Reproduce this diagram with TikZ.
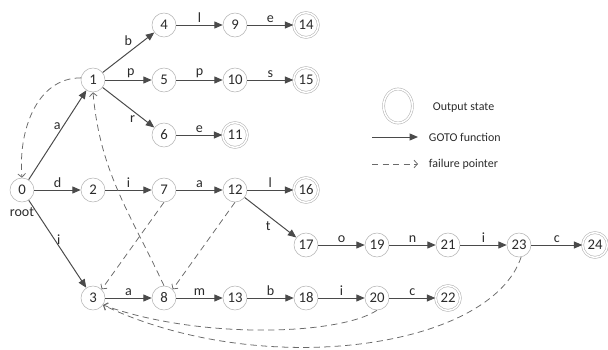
\documentclass[tikz,border=0pt]{standalone}
\usepackage{fontspec}
\setmainfont{Carlito}
\usetikzlibrary{shapes.geometric, arrows.meta, positioning}
\definecolor{circlegray}{HTML}{B4B4B4}
\definecolor{arrowgray}{HTML}{4A4A4A}
\definecolor{failgray}{HTML}{6A6A6A}
\definecolor{textgray}{HTML}{2B2B2B}

\begin{document}
\begin{tikzpicture}[node distance=1.375cm and 1.775cm, on grid]
% Define styles
\tikzstyle{state} = [circle, minimum size=0.6cm, inner sep=0pt, draw=circlegray, text=textgray, font=\fontsize{10.5}{12}\selectfont]
\tikzstyle{output} = [state, double, double distance=1.1pt, minimum size=0.62cm]
\tikzstyle{goto} = [draw=arrowgray, line width=0.7pt, -{Triangle[length=6pt, width=5pt]}]
\tikzstyle{fail} = [draw=failgray, line width=0.55pt, dash pattern=on 4.5pt off 3pt, -{Straight Barb[length=2.5pt, width=5.5pt]}]
\tikzstyle{lbl} = [text=textgray, inner sep=1.5pt, font=\fontsize{10}{12}\selectfont]
\tikzstyle{legend} = [text=textgray, anchor=west, font=\fontsize{8.5}{10}\selectfont]

\useasboundingbox (0,0) rectangle (15.2,-8.75);

% Nodes
\node (n0) [state] at (0.55,-4.75) {0};
\node (rootlbl) [lbl, below=0.55cm of n0] {root};
\node (n1) [state, above right=2.75cm and 1.775cm of n0] {1};
\node (n2) [state, right=of n0] {2};
\node (n3) [state, below right=2.7cm and 1.775cm of n0] {3};

\node (n4) [state, above right=of n1] {4};
\node (n9) [state, right=of n4] {9};
\node (n14) [output, right=of n9] {14};
\node (n5) [state, right=of n1] {5};
\node (n10) [state, right=of n5] {10};
\node (n15) [output, right=of n10] {15};
\node (n6) [state, below right=of n1] {6};
\node (n11) [output, right=of n6] {11};

\node (n7) [state, right=of n2] {7};
\node (n12) [state, right=of n7] {12};
\node (n16) [output, right=of n12] {16};
\node (n17) [state, below right=of n12] {17};
\node (n19) [state, right=of n17] {19};
\node (n21) [state, right=of n19] {21};
\node (n23) [state, right=of n21] {23};
\node (n24) [output, right=1.9cm of n23] {24};

\node (n8) [state, right=of n3] {8};
\node (n13) [state, right=of n8] {13};
\node (n18) [state, right=of n13] {18};
\node (n20) [state, right=of n18] {20};
\node (n22) [output, right=of n20] {22};

% GOTO function
\draw[goto] (n0) -- node[lbl, pos=0.6, left] {a} (n1);
\draw[goto] (n0) -- node[lbl, above] {d} (n2);
\draw[goto] (n0) -- node[lbl, pos=0.45, right] {i} (n3);
\draw[goto] (n1) -- node[lbl, pos=0.62, above left] {b} (n4);
\draw[goto] (n1) -- node[lbl, pos=0.55, above] {p} (n5);
\draw[goto] (n1) -- node[lbl, pos=0.58, below=2pt] {r} (n6);
\draw[goto] (n4) -- node[lbl, above] {l} (n9);
\draw[goto] (n9) -- node[lbl, above] {e} (n14);
\draw[goto] (n5) -- node[lbl, above] {p} (n10);
\draw[goto] (n10) -- node[lbl, above] {s} (n15);
\draw[goto] (n6) -- node[lbl, above] {e} (n11);
\draw[goto] (n2) -- node[lbl, above] {i} (n7);
\draw[goto] (n7) -- node[lbl, above] {a} (n12);
\draw[goto] (n12) -- node[lbl, above] {l} (n16);
\draw[goto] (n12) -- node[lbl, pos=0.55, below left] {t} (n17);
\draw[goto] (n17) -- node[lbl, above] {o} (n19);
\draw[goto] (n19) -- node[lbl, above] {n} (n21);
\draw[goto] (n21) -- node[lbl, above] {i} (n23);
\draw[goto] (n23) -- node[lbl, above] {c} (n24);
\draw[goto] (n3) -- node[lbl, above] {a} (n8);
\draw[goto] (n8) -- node[lbl, above] {m} (n13);
\draw[goto] (n13) -- node[lbl, above] {b} (n18);
\draw[goto] (n18) -- node[lbl, above] {i} (n20);
\draw[goto] (n20) -- node[lbl, above] {c} (n22);

% failure pointers
\draw[fail] (n1.170) to[out=180, in=95] (n0.north);
\draw[fail] (n8.north) to[out=115, in=-85] (n1.south);
\draw[fail] (n7.south) -- (n3.north east);
\draw[fail] (n12.south) -- (n8.north east);
\draw[fail] (n20.south) .. controls (8.5,-8.375) and (5.0,-8.5) .. (n3.-35);
\draw[fail] (n23.-80) .. controls (12.25,-8.75) and (6.5,-9.5) .. (n3.-35);

% Legend
\node (legout) [output, ellipse, minimum width=0.72cm, minimum height=0.85cm] at (9.95,-2.65) {};
\node (legtext1) [legend] at (10.7,-2.68) {Output state};
\coordinate (gotoA) at (9.3,-3.425);
\coordinate (gotoB) at (10.45,-3.425);
\draw[goto] (gotoA) -- (gotoB);
\node (legtext2) [legend] at (10.6,-3.425) {GOTO function};
\coordinate (failA) at (9.3,-4.1);
\coordinate (failB) at (10.45,-4.1);
\draw[fail] (failA) -- (failB);
\node (legtext3) [legend] at (10.6,-4.1) {failure pointer};

\end{tikzpicture}
\end{document}
